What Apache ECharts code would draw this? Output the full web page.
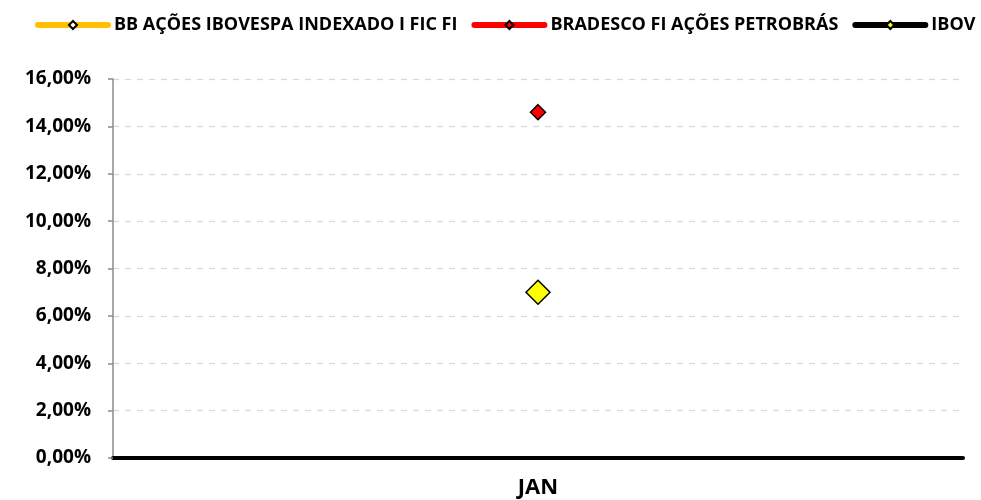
<!DOCTYPE html>
<html>
<head>
<meta charset="utf-8">
<script src="https://cdn.jsdelivr.net/npm/echarts@6/dist/echarts.min.js"></script>
<style>
html, body { margin: 0; padding: 0; background: #fff; }
#main { width: 981px; height: 500px; }
</style>
</head>
<body>
<div id="main"></div>
<script>
// categorias e valores (%)
var meses = ['JAN'];
var bbAcoes = [7.0];
var bradesco = [14.6];
var ibov = [7.0];

var chart = echarts.init(document.getElementById('main'));
var fonte = "'Open Sans', 'Liberation Sans', sans-serif";

var option = {
	animation: false,
	legend: {
		top: 16,
		left: 35,
		width: 946,
		padding: 0,
		itemWidth: 70,
		itemHeight: 10,
		itemGap: 14,
		lineStyle: { width: 6, cap: 'round' },
		textStyle: {
			fontFamily: fonte,
			fontWeight: 'bold',
			fontSize: 18,
			color: '#000',
			padding: [0, 0, 0, 1]
		},
		data: [
			{ name: 'BB AÇÕES IBOVESPA INDEXADO I FIC FI' },
			{ name: 'BRADESCO FI AÇÕES PETROBRÁS' },
			{ name: 'IBOV' }
		]
	},
	grid: {
		left: 113,
		right: 18,
		top: 79,
		bottom: 42,
		outerBoundsMode: 'none'
	},
	xAxis: {
		type: 'category',
		data: meses,
		boundaryGap: true,
		axisLine: {
			lineStyle: { color: '#000', width: 4 }
		},
		axisTick: {
			length: 6,
			lineStyle: { color: '#000', width: 4 }
		},
		axisLabel: {
			margin: 19,
			fontFamily: fonte,
			fontWeight: 'bold',
			fontSize: 22,
			color: '#000'
		}
	},
	yAxis: {
		type: 'value',
		min: 0,
		max: 16,
		interval: 2,
		axisLine: {
			show: true,
			lineStyle: { color: '#8c8c8c', width: 1.5 }
		},
		axisTick: {
			show: true,
			length: 5,
			lineStyle: { color: '#8c8c8c', width: 1.5 }
		},
		splitLine: {
			lineStyle: { color: '#d9d9d9', width: 1.3, type: [6, 6] }
		},
		axisLabel: {
			margin: 22,
			fontFamily: fonte,
			fontWeight: 'bold',
			fontSize: 19,
			color: '#000',
			formatter: function (v) {
				return v.toFixed(2).replace('.', ',') + '%';
			}
		}
	},
	series: [
		{
			name: 'BB AÇÕES IBOVESPA INDEXADO I FIC FI',
			type: 'line',
			data: bbAcoes,
			symbol: 'diamond',
			symbolSize: 10,
			lineStyle: { color: '#ffc000', width: 6, cap: 'round' },
			itemStyle: { color: '#ffffff', borderColor: '#000', borderWidth: 1.5 }
		},
		{
			name: 'BRADESCO FI AÇÕES PETROBRÁS',
			type: 'line',
			data: bradesco,
			symbol: 'diamond',
			symbolSize: 15,
			lineStyle: { color: '#ff0000', width: 6, cap: 'round' },
			itemStyle: { color: '#ff0000', borderColor: '#000', borderWidth: 1.5 }
		},
		{
			name: 'IBOV',
			type: 'line',
			data: ibov,
			symbol: 'diamond',
			symbolSize: 24,
			lineStyle: { color: '#000000', width: 6, cap: 'round' },
			itemStyle: { color: '#ffff00', borderColor: '#000', borderWidth: 1.5 }
		}
	]
};
chart.setOption(option);
</script>
</body>
</html>
